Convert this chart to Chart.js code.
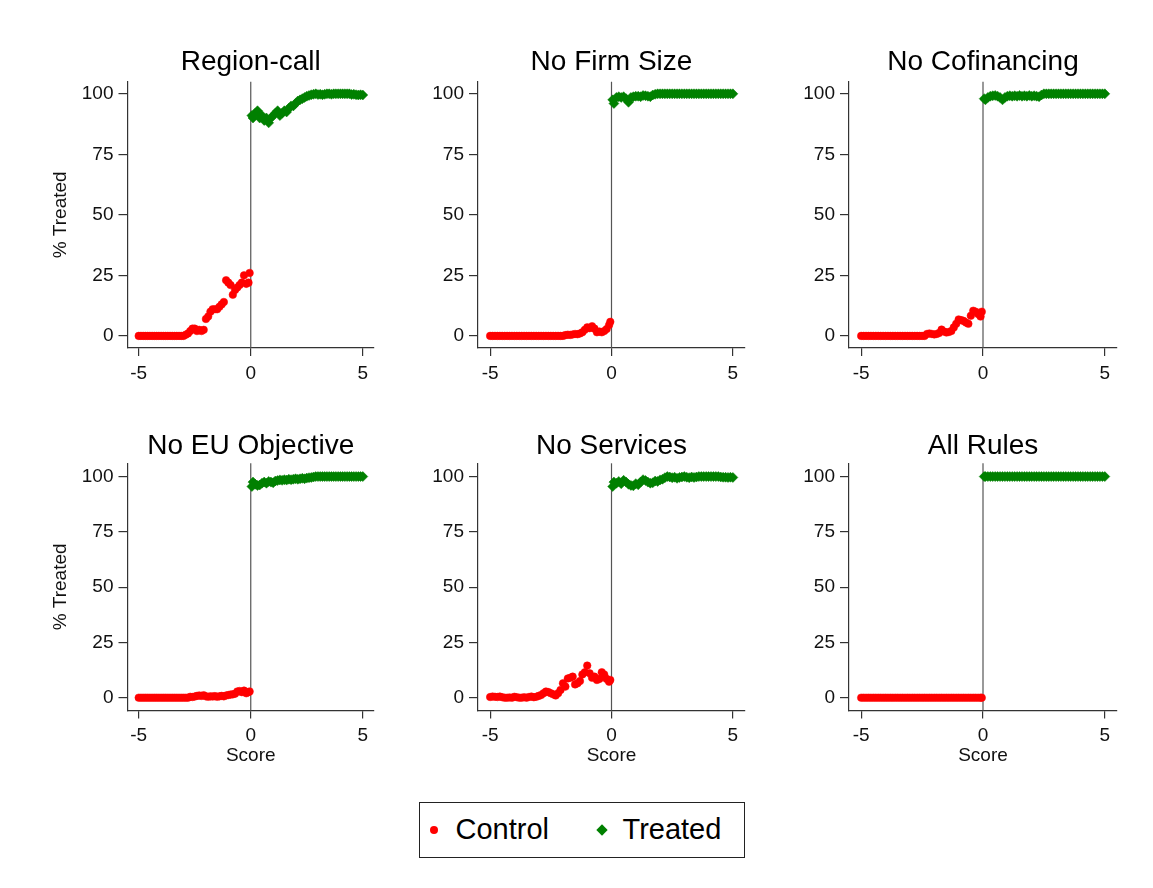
<!DOCTYPE html>
<html>
<head>
<meta charset="utf-8">
<title>% Treated by score</title>
<script src="https://cdn.jsdelivr.net/npm/chart.js@4.4.1/dist/chart.umd.min.js"></script>
<style>
  html, body { margin: 0; padding: 0; background: #fff; }
  body { width: 1153px; height: 888px; position: relative; overflow: hidden;
         font-family: "Liberation Sans", Arial, sans-serif; }
  .panel { position: absolute; }
  .legend { position: absolute; left: 419px; top: 802px; width: 326px; height: 56px;
            box-sizing: border-box; border: 1.5px solid #222; }
  .legend .dot { position: absolute; left: 9.5px; top: 22.5px; width: 8px; height: 8px;
                 border-radius: 50%; background: #ff0000; }
  .legend .diamond { position: absolute; left: 177.5px; top: 22.5px; width: 8px; height: 8px;
                     background: #008000; transform: rotate(45deg); }
  .legend .label { position: absolute; top: 0; line-height: 53px; font-size: 29px; color: #000; }
</style>
</head>
<body>

<div class="panel" id="p0"><canvas></canvas></div>
<div class="panel" id="p1"><canvas></canvas></div>
<div class="panel" id="p2"><canvas></canvas></div>
<div class="panel" id="p3"><canvas></canvas></div>
<div class="panel" id="p4"><canvas></canvas></div>
<div class="panel" id="p5"><canvas></canvas></div>

<div class="legend">
  <span class="dot"></span><span class="label" style="left:35.5px">Control</span>
  <span class="diamond"></span><span class="label" style="left:202.5px">Treated</span>
</div>

<script>
// ---- data ---------------------------------------------------------------
const panelTitles = ['Region-call', 'No Firm Size', 'No Cofinancing',
                     'No EU Objective', 'No Services', 'All Rules'];
const xTicks = [-5, 0, 5];
const yTicks = [0, 25, 50, 75, 100];

const xControl = [-5, -4.9, -4.8, -4.7, -4.6, -4.5, -4.4, -4.3, -4.2, -4.1,
                  -4, -3.9, -3.8, -3.7, -3.6, -3.5, -3.4, -3.3, -3.2, -3.1,
                  -3, -2.9, -2.8, -2.7, -2.6, -2.5, -2.4, -2.3, -2.2, -2.1,
                  -2, -1.9, -1.8, -1.7, -1.6, -1.5, -1.4, -1.3, -1.2, -1.1,
                  -1, -0.9, -0.8, -0.7, -0.6, -0.5, -0.4, -0.3, -0.2, -0.1, -0.05];
const xTreated = [0.05, 0.1, 0.2, 0.3, 0.4, 0.5, 0.6, 0.7, 0.8, 0.9,
                  1, 1.1, 1.2, 1.3, 1.4, 1.5, 1.6, 1.7, 1.8, 1.9,
                  2, 2.1, 2.2, 2.3, 2.4, 2.5, 2.6, 2.7, 2.8, 2.9,
                  3, 3.1, 3.2, 3.3, 3.4, 3.5, 3.6, 3.7, 3.8, 3.9,
                  4, 4.1, 4.2, 4.3, 4.4, 4.5, 4.6, 4.7, 4.8, 4.9, 5];

const regionControl = [0, 0, 0, 0, 0, 0, 0, 0, 0, 0,
                       0, 0, 0, 0, 0, 0, 0, 0, 0, 0,
                       0, 0.5, 1, 2, 3, 3, 2, 2.5, 2, 2.5,
                       7, 8, 10, 11, 11, 11, 12, 13, 14, 23,
                       22, 21, 17, 19, 20, 21, 22, 25, 21.5, 22, 26];
const regionTreated = [91, 90, 92, 93, 90, 91, 89, 90, 88, 90,
                       91, 92, 93, 91, 92, 93, 92.5, 94, 95, 95,
                       96, 97, 97.5, 98, 98.5, 99, 99.3, 99.6, 99.8, 100,
                       99.7, 99.8, 99.6, 99.8, 100, 100, 99.8, 100, 100, 100,
                       100, 100, 100, 100, 100, 99.7, 99.8, 99.6, 99.5, 99.6, 99.5];

const firmControl = [0, 0, 0, 0, 0, 0, 0, 0, 0, 0,
                     0, 0, 0, 0, 0, 0, 0, 0, 0, 0,
                     0, 0, 0, 0, 0, 0, 0, 0, 0, 0,
                     0, 0.3, 0.5, 0.4, 0.6, 0.8, 0.7, 1, 1.5, 2.5,
                     3.5, 3.2, 4, 3, 1.5, 1.8, 1.5, 2, 2.8, 4.5, 5.8];
const firmTreated = [97.5, 96, 98.5, 98.8, 98.5, 98.8, 98, 96.5, 98.5, 98.8,
                     99, 99, 98.8, 99.3, 99.2, 99, 98.8, 99.5, 99.8, 100,
                     100, 100, 100, 100, 100, 100, 100, 100, 100, 100,
                     100, 100, 100, 100, 100, 100, 100, 100, 100, 100,
                     100, 100, 100, 100, 100, 100, 100, 100, 100, 100, 100];

const cofinControl = [0, 0, 0, 0, 0, 0, 0, 0, 0, 0,
                      0, 0, 0, 0, 0, 0, 0, 0, 0, 0,
                      0, 0, 0, 0, 0, 0, 0, 0.8, 1, 0.8,
                      0.6, 0.8, 1.2, 2.6, 1.8, 1.4, 1.6, 2, 3.5, 5,
                      6.8, 6.5, 6.2, 5.5, 5, 8.3, 10.4, 10, 9, 8, 10];
const cofinTreated = [98, 97.5, 98.5, 99, 99.2, 99.3, 99, 98.5, 97.5, 98.5,
                      99, 99.2, 99, 99.2, 99, 99.3, 99, 99.2, 99, 99.3,
                      99, 99.2, 99, 98.8, 99.5, 100, 100, 100, 100, 100,
                      100, 100, 100, 100, 100, 100, 100, 100, 100, 100,
                      100, 100, 100, 100, 100, 100, 100, 100, 100, 100, 100];

const euControl = [0, 0, 0, 0, 0, 0, 0, 0, 0, 0,
                   0, 0, 0, 0, 0, 0, 0, 0, 0, 0,
                   0, 0, 0, 0.4, 0.3, 0.5, 0.8, 1, 0.8, 1.1,
                   0.6, 0.4, 0.6, 0.5, 0.7, 0.4, 0.6, 0.8, 0.6, 1,
                   1.2, 1.4, 1.5, 1.8, 2.8, 3, 2.5, 3.2, 2, 2.5, 2.8];
const euTreated = [95.5, 97.5, 96.5, 96, 96.2, 97, 97.5, 97, 97.8, 97.5,
                   97.2, 98, 98.2, 98.5, 98.3, 98.6, 98.4, 98.8, 98.6, 98.8,
                   99, 98.8, 99, 99.2, 99, 99.3, 99.5, 99.6, 99.8, 100,
                   100, 100, 100, 100, 100, 100, 100, 100, 100, 100,
                   100, 100, 100, 100, 100, 100, 100, 100, 100, 100, 100];

const servControl = [0.3, 0.5, 0.4, 0.3, 0.5, 0.2, 0, 0, 0.1, 0,
                     0.4, 0.2, 0, 0, 0.2, 0, 0.3, 0.5, 0.2, 0.4,
                     0.8, 1.2, 2, 2.8, 2.5, 2, 1.5, 1, 2, 3.5,
                     6.5, 5, 8.7, 9, 9.5, 6, 6.5, 7.5, 10.5, 11.5,
                     14.5, 11, 9, 9.5, 8, 8.5, 11.5, 10.5, 8.5, 7.2, 8];
const servTreated = [95.5, 97.5, 97, 97.8, 96.8, 98.3, 97.5, 96.5, 96, 95.8,
                     96.8, 96.3, 97.5, 98.6, 98.2, 97.5, 97, 97.2, 98, 97.8,
                     98.5, 98.8, 99.5, 100, 99.8, 99.5, 99.7, 99.2, 99.6, 99.8,
                     100, 99.7, 99.5, 99.8, 99.6, 99.8, 100, 100, 100, 100,
                     100, 100, 100, 100, 100, 99.8, 99.7, 99.7, 99.6, 99.7, 99.6];

const allControl = [0, 0, 0, 0, 0, 0, 0, 0, 0, 0,
                    0, 0, 0, 0, 0, 0, 0, 0, 0, 0,
                    0, 0, 0, 0, 0, 0, 0, 0, 0, 0,
                    0, 0, 0, 0, 0, 0, 0, 0, 0, 0,
                    0, 0, 0, 0, 0, 0, 0, 0, 0, 0, 0];
const allTreated = [100, 100, 100, 100, 100, 100, 100, 100, 100, 100,
                    100, 100, 100, 100, 100, 100, 100, 100, 100, 100,
                    100, 100, 100, 100, 100, 100, 100, 100, 100, 100,
                    100, 100, 100, 100, 100, 100, 100, 100, 100, 100,
                    100, 100, 100, 100, 100, 100, 100, 100, 100, 100, 100];

const controlSeries = [regionControl, firmControl, cofinControl, euControl, servControl, allControl];
const treatedSeries = [regionTreated, firmTreated, cofinTreated, euTreated, servTreated, allTreated];

// ---- layout (page pixels) -----------------------------------------------
const cols = [
  { left: 45,  width: 339, axisW: 82.5, yTitle: true },
  { left: 418, width: 337, axisW: 60,   yTitle: false },
  { left: 789, width: 338, axisW: 60,   yTitle: false }
];
const rows = [
  { top: 40,  height: 348, titlePad: { top: 5.7, bottom: 2.4 }, axisH: 40,   xTitle: false, yMin: -5,   yMax: 105 },
  { top: 420, height: 348, titlePad: { top: 9.7, bottom: 0 },   axisH: 57.5, xTitle: true,  yMin: -5.8, yMax: 106 }
];

const FONT = '"Liberation Sans", Arial, sans-serif';
const AXIS = '#333';
Chart.defaults.font.family = FONT;
Chart.defaults.color = '#111';

// reference line at score = 0
const zeroLine = {
  id: 'zeroLine',
  beforeDatasetsDraw(chart) {
    const { ctx, chartArea, scales } = chart;
    const px = scales.x.getPixelForValue(0);
    ctx.save();
    ctx.strokeStyle = '#555';
    ctx.lineWidth = 1.2;
    ctx.beginPath();
    ctx.moveTo(px, chartArea.top);
    ctx.lineTo(px, chartArea.bottom);
    ctx.stroke();
    ctx.restore();
  }
};

function toPoints(xs, ys) {
  return xs.map((x, i) => ({ x, y: ys[i] }));
}

function buildPanel(i) {
  const row = rows[Math.floor(i / 3)];
  const col = cols[i % 3];
  const box = document.getElementById('p' + i);
  box.style.left = col.left + 'px';
  box.style.top = row.top + 'px';
  box.style.width = col.width + 'px';
  box.style.height = row.height + 'px';

  new Chart(box.querySelector('canvas'), {
    type: 'scatter',
    data: {
      datasets: [{
        label: 'Control',
        data: toPoints(xControl, controlSeries[i]),
        pointStyle: 'circle',
        pointRadius: 3.8,
        backgroundColor: '#ff0000',
        borderColor: '#ff0000',
        borderWidth: 0.5
      }, {
        label: 'Treated',
        data: toPoints(xTreated, treatedSeries[i]),
        pointStyle: 'rectRot',
        pointRadius: 5,
        backgroundColor: '#008000',
        borderColor: '#008000',
        borderWidth: 0.5
      }]
    },
    options: {
      responsive: true,
      maintainAspectRatio: false,
      animation: false,
      events: [],
      layout: { padding: { left: 0, top: 0, right: 10, bottom: 0 } },
      plugins: {
        legend: { display: false },
        tooltip: { enabled: false },
        title: {
          display: true,
          text: panelTitles[i],
          fullSize: false,
          color: '#000',
          font: { size: 28, weight: 'normal', lineHeight: 1.2 },
          padding: row.titlePad
        }
      },
      scales: {
        x: {
          type: 'linear',
          min: -5.5,
          max: 5.5,
          afterBuildTicks: axis => { axis.ticks = xTicks.map(v => ({ value: v })); },
          afterFit: axis => { axis.height = row.axisH; axis.paddingLeft = 0; axis.paddingRight = 0; },
          ticks: { font: { size: 19 }, color: '#111', padding: 6, maxRotation: 0 },
          grid: { drawOnChartArea: false, drawTicks: true, tickLength: 8, color: AXIS, lineWidth: 1.2 },
          border: { display: true, color: AXIS, width: 1.2 },
          title: {
            display: row.xTitle,
            text: 'Score',
            color: '#111',
            font: { size: 19, lineHeight: 1.2 },
            padding: { top: 0, bottom: 0.8 }
          }
        },
        y: {
          type: 'linear',
          min: row.yMin,
          max: row.yMax,
          afterBuildTicks: axis => { axis.ticks = yTicks.map(v => ({ value: v })); },
          afterFit: axis => { axis.width = col.axisW; axis.paddingTop = 0; axis.paddingBottom = 0; },
          ticks: { font: { size: 19 }, color: '#111', padding: 5 },
          grid: { drawOnChartArea: false, drawTicks: true, tickLength: 9, color: AXIS, lineWidth: 1.2 },
          border: { display: true, color: AXIS, width: 1.2 },
          title: {
            display: col.yTitle,
            text: '% Treated',
            color: '#111',
            font: { size: 19, lineHeight: 1.2 },
            padding: { top: 4.6, bottom: 0 }
          }
        }
      }
    },
    plugins: [zeroLine]
  });
}

for (let i = 0; i < 6; i++) buildPanel(i);
</script>
</body>
</html>
